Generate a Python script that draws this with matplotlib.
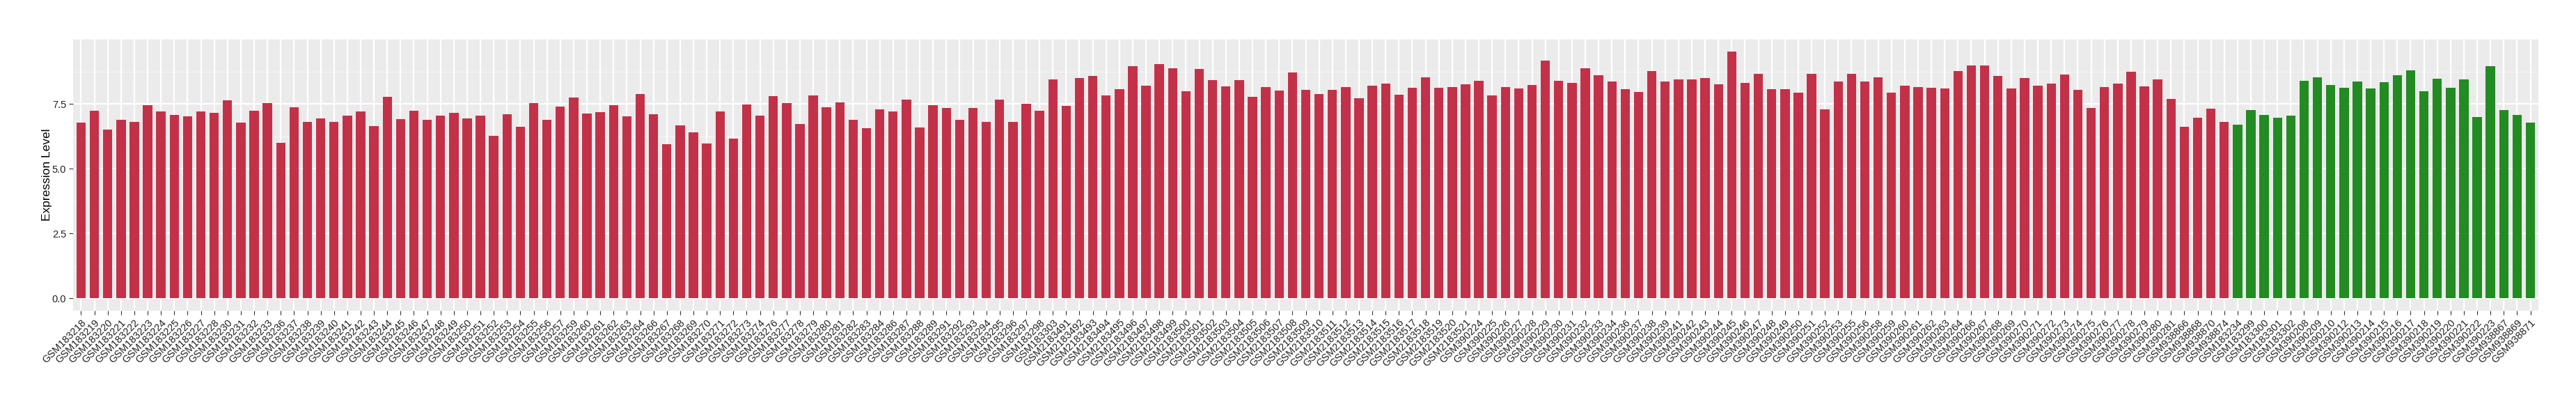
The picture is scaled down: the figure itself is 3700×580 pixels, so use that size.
import matplotlib
matplotlib.use('Agg')
import matplotlib.pyplot as plt
from matplotlib.ticker import MultipleLocator

plt.rcParams['font.family'] = ['Liberation Sans', 'DejaVu Sans']

# sample ids, red group first, then green group
red_ids = [183218, 183219, 183220, 183221, 183222, 183223, 183224, 183225, 183226, 183227,
           183228, 183230, 183231, 183232, 183233, 183236, 183237, 183238, 183239, 183240,
           183241, 183242, 183243, 183244, 183245, 183246, 183247, 183248, 183249, 183250,
           183251, 183252, 183253, 183254, 183255, 183256, 183257, 183259, 183260, 183261,
           183262, 183263, 183264, 183266, 183267, 183268, 183269, 183270, 183271, 183272,
           183273, 183274, 183276, 183277, 183278, 183279, 183280, 183281, 183282, 183283,
           183284, 183286, 183287, 183288, 183289, 183291, 183292, 183293, 183294, 183295,
           183296, 183297, 183298, 183303,
           2183491, 2183492, 2183493, 2183494, 2183495, 2183496, 2183497, 2183498, 2183499,
           2183500, 2183501, 2183502, 2183503, 2183504, 2183505, 2183506, 2183507, 2183508,
           2183509, 2183510, 2183511, 2183512, 2183513, 2183514, 2183515, 2183516, 2183517,
           2183518, 2183519, 2183520, 2183521,
           390224, 390225, 390226, 390227, 390228, 390229, 390230, 390231, 390232, 390233,
           390234, 390236, 390237, 390238, 390239, 390241, 390242, 390243, 390244, 390245,
           390246, 390247, 390248, 390249, 390250, 390251, 390252, 390253, 390255, 390256,
           390258, 390259, 390260, 390261, 390262, 390263, 390264, 390266, 390267, 390268,
           390269, 390270, 390271, 390272, 390273, 390274, 390275, 390276, 390277, 390278,
           390279, 390280, 390281,
           938866, 938868, 938870, 938874]
green_ids = [183234, 183299, 183300, 183301, 183302, 390208, 390209, 390210, 390212, 390213,
             390214, 390215, 390216, 390217, 390218, 390219, 390220, 390221, 390222, 390223,
             938867, 938869, 938871]

red_vals = [6.78, 7.24, 6.51, 6.89, 6.81, 7.46, 7.21, 7.08, 7.03, 7.21,
            7.16, 7.64, 6.78, 7.24, 7.54, 6.00, 7.37, 6.81, 6.94, 6.81,
            7.05, 7.21, 6.65, 7.78, 6.92, 7.24, 6.89, 7.05, 7.16, 6.94,
            7.05, 6.27, 7.11, 6.62, 7.54, 6.89, 7.40, 7.75, 7.13, 7.19,
            7.46, 7.03, 7.89, 7.11, 5.95, 6.68, 6.41, 5.98, 7.21, 6.16,
            7.48, 7.05, 7.80, 7.54, 6.73, 7.83, 7.37, 7.56, 6.89, 6.57,
            7.29, 7.21, 7.67, 6.59, 7.46, 7.35, 6.89, 7.35, 6.81, 7.67,
            6.81, 7.51, 7.24, 8.45, 7.43, 8.50, 8.58, 7.83, 8.07, 8.96,
            8.21, 9.04, 8.88, 7.99, 8.85, 8.42, 8.18, 8.42, 7.78, 8.15,
            8.02, 8.72, 8.05, 7.89, 8.05, 8.15, 7.72, 8.21, 8.29, 7.86,
            8.13, 8.53, 8.13, 8.15, 8.26, 8.40, 7.83, 8.15, 8.10, 8.23,
            9.18, 8.40, 8.32, 8.88, 8.61, 8.37, 8.07, 7.97, 8.77, 8.37,
            8.45, 8.45, 8.50, 8.26, 9.53, 8.32, 8.66, 8.07, 8.07, 7.94,
            8.66, 7.29, 8.37, 8.66, 8.37, 8.53, 7.94, 8.21, 8.15, 8.13,
            8.10, 8.77, 8.99, 8.99, 8.58, 8.10, 8.50, 8.21, 8.29, 8.64,
            8.05, 7.35, 8.15, 8.29, 8.75, 8.18, 8.45, 7.70, 6.62, 6.97,
            7.32, 6.81]
green_vals = [6.70, 7.27, 7.08, 6.97, 7.05, 8.40, 8.53, 8.23, 8.13, 8.37,
              8.10, 8.34, 8.61, 8.80, 7.99, 8.47, 8.13, 8.45, 7.00, 8.96,
              7.27, 7.08, 6.78]

labels = ['GSM%d' % n for n in red_ids + green_ids]
values = red_vals + green_vals
colors = ['#C33149'] * len(red_vals) + ['#228B22'] * len(green_vals)
x = list(range(len(values)))

fig = plt.figure(figsize=(37, 5.8), dpi=100)
ax = fig.add_axes([105 / 3700, 1 - 446 / 580, 3541 / 3700, 390 / 580])
ax.set_facecolor('#EBEBEB')

ax.bar(x, values, width=0.7, color=colors, zorder=3)

ymax = max(values)
ax.set_xlim(-0.6, len(values) - 0.4)
ax.set_ylim(-0.05 * ymax, 1.05 * ymax)

ax.yaxis.set_minor_locator(MultipleLocator(1.25))
ax.set_yticks([0, 2.5, 5.0, 7.5])
ax.set_yticklabels(['0.0', '2.5', '5.0', '7.5'], fontsize=10.5, color='#222222')
ax.grid(which='major', axis='y', color='white', linewidth=1.6, zorder=1)
ax.grid(which='minor', axis='y', color='white', linewidth=0.7, alpha=0.6, zorder=1)
ax.grid(which='major', axis='x', color='white', linewidth=1.6, zorder=1)

ax.set_xticks(x)
ax.set_xticklabels(labels, rotation=45, ha='right', va='top', rotation_mode='anchor',
                   fontsize=10.5, color='#222222')
ax.tick_params(axis='both', which='major', length=4, width=0.8, color='#333333', pad=3)
ax.tick_params(axis='y', which='minor', length=0)

for s in ax.spines.values():
    s.set_visible(False)

ax.set_ylabel('Expression Level', fontsize=12.5)
ax.yaxis.set_label_coords(-0.0085, 0.5)

plt.savefig('out.png', dpi=100)
